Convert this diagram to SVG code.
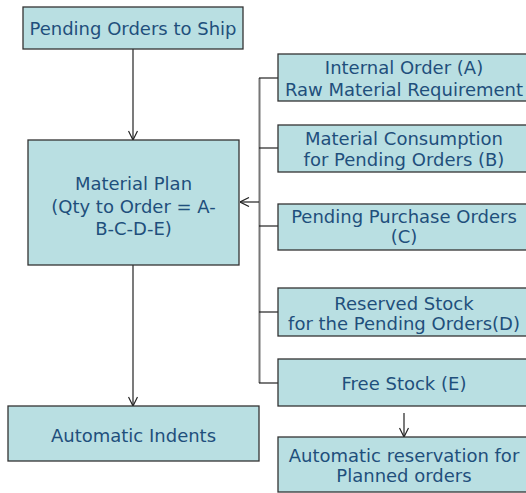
<svg xmlns="http://www.w3.org/2000/svg" width="526" height="493" viewBox="0 0 526 493">
<defs>
<marker id="arr" viewBox="0 0 10 10" refX="10" refY="5" markerWidth="10" markerHeight="10" markerUnits="userSpaceOnUse" orient="auto">
<path d="M1,0.5 L10,5 L1,9.5" fill="none" stroke="#222" stroke-width="1.2"/>
</marker>
</defs>
<style>
.box{fill:#b9dfe2;stroke:#333;stroke-width:1.3}
.t{font-family:"DejaVu Sans",Verdana,sans-serif;font-size:18px;fill:#1f4f7c;text-anchor:middle}
.c{stroke:#222;stroke-width:1.2;fill:none}
</style>
<rect width="526" height="493" fill="#fff"/>
<g id="connectors">
<line class="c" x1="133" y1="49" x2="133" y2="140" marker-end="url(#arr)"/>
<line class="c" x1="133" y1="265" x2="133" y2="406" marker-end="url(#arr)"/>
<line x1="259.5" y1="78" x2="259.5" y2="383" stroke="#777" stroke-width="2"/>
<line class="c" x1="259" y1="78" x2="278" y2="78"/>
<line class="c" x1="259" y1="148" x2="278" y2="148"/>
<line class="c" x1="259" y1="226" x2="278" y2="226"/>
<line class="c" x1="259" y1="312" x2="278" y2="312"/>
<line class="c" x1="259" y1="383" x2="278" y2="383"/>
<line class="c" x1="259" y1="202" x2="240" y2="202" marker-end="url(#arr)"/>
<line class="c" x1="404" y1="413" x2="404" y2="437" marker-end="url(#arr)"/>
</g>
<g id="pending-orders">
<rect class="box" x="23" y="7" width="220" height="42"/>
<text class="t" x="133" y="35">Pending Orders to Ship</text>
</g>
<g id="material-plan">
<rect class="box" x="28" y="140" width="211" height="125"/>
<text class="t" x="133.5" y="190">Material Plan</text>
<text class="t" x="133.5" y="213">(Qty to Order = A-</text>
<text class="t" x="133.5" y="235">B-C-D-E)</text>
</g>
<g id="automatic-indents">
<rect class="box" x="8" y="406" width="251" height="55"/>
<text class="t" x="133.5" y="442">Automatic Indents</text>
</g>
<g id="internal-order">
<rect class="box" x="278" y="54" width="252" height="47"/>
<text class="t" x="404" y="74">Internal Order (A)</text>
<text class="t" x="404" y="96">Raw Material Requirement</text>
</g>
<g id="material-consumption">
<rect class="box" x="278" y="125" width="252" height="47"/>
<text class="t" x="404" y="145">Material Consumption</text>
<text class="t" x="404" y="166">for Pending Orders (B)</text>
</g>
<g id="pending-purchase">
<rect class="box" x="278" y="204" width="252" height="46"/>
<text class="t" x="404" y="223">Pending Purchase Orders</text>
<text class="t" x="404" y="243">(C)</text>
</g>
<g id="reserved-stock">
<rect class="box" x="278" y="288" width="252" height="48"/>
<text class="t" x="404" y="310">Reserved Stock</text>
<text class="t" x="404" y="330">for the Pending Orders(D)</text>
</g>
<g id="free-stock">
<rect class="box" x="278" y="359" width="252" height="47"/>
<text class="t" x="404" y="390">Free Stock (E)</text>
</g>
<g id="auto-reservation">
<rect class="box" x="278" y="437" width="252" height="55"/>
<text class="t" x="404" y="462">Automatic reservation for</text>
<text class="t" x="404" y="482">Planned orders</text>
</g>
</svg>
